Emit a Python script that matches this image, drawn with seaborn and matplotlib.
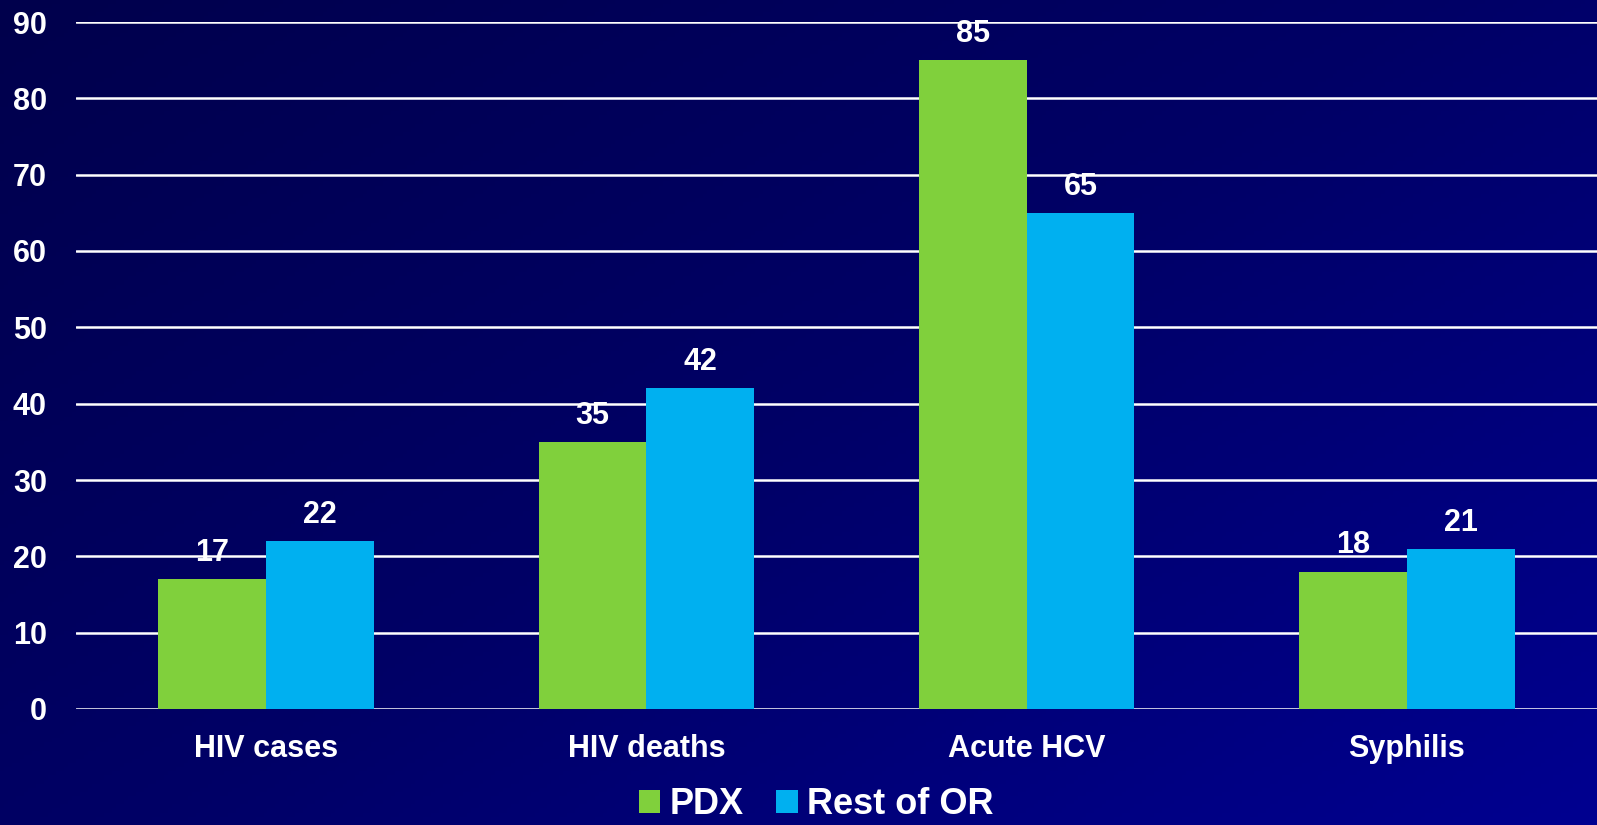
import numpy as np
import pandas as pd
import seaborn as sns
import matplotlib.pyplot as plt
from matplotlib.colors import LinearSegmentedColormap

categories = ["HIV cases", "HIV deaths", "Acute HCV", "Syphilis"]
pdx = [17, 35, 85, 18]
rest_of_or = [22, 42, 65, 21]
series = ["PDX", "Rest of OR"]
yticks = [0, 10, 20, 30, 40, 50, 60, 70, 80, 90]

df = pd.DataFrame({
    "category": categories * 2,
    "value": pdx + rest_of_or,
    "region": [series[0]] * len(categories) + [series[1]] * len(categories),
})

sns.set_theme(style="white")
plt.rcParams["font.family"] = ["Liberation Sans", "DejaVu Sans"]
plt.rcParams["font.weight"] = "bold"

fig = plt.figure(figsize=(15.97, 8.25), dpi=100)

# diagonal navy gradient background
bg = fig.add_axes([0, 0, 1, 1], zorder=-10)
xx, yy = np.meshgrid(np.linspace(0, 1, 400), np.linspace(0, 1, 200))
grad = 0.55 * xx + 0.45 * yy
cmap = LinearSegmentedColormap.from_list("bg", ["#00004c", "#000066", "#000090"])
bg.imshow(grad, cmap=cmap, aspect="auto", extent=[0, 1, 0, 1], origin="upper")
bg.axis("off")

ax = fig.add_axes([76 / 1597, 1 - 709 / 825, 1 - 76 / 1597, (709 - 22) / 825])
ax.patch.set_alpha(0)

palette = {"PDX": "#80d03c", "Rest of OR": "#00b0f0"}
sns.barplot(data=df, x="category", y="value", hue="region", palette=palette,
            width=0.567, gap=0, saturation=1, linewidth=0, ax=ax, legend=True)

for p in ax.patches:
    p.set_zorder(3)
    p.set_linewidth(0)

for cont in ax.containers:
    ax.bar_label(cont, fmt="%d", padding=8, color="white", fontsize=22,
                 fontweight="bold")

ax.set_ylim(0, 90)
ax.set_xlim(-0.5, 3.5)
ax.set_yticks(yticks)
ax.yaxis.grid(True, color="white", linewidth=1.8)
for gl in ax.yaxis.get_gridlines():
    gl.set_zorder(1)
ax.set_axisbelow(True)
for s in ax.spines.values():
    s.set_visible(False)
ax.tick_params(axis="both", length=0, colors="white", labelsize=22)
ax.tick_params(axis="y", pad=21)
ax.tick_params(axis="x", pad=18)
for lab in ax.get_xticklabels() + ax.get_yticklabels():
    lab.set_fontweight("bold")
ax.set_xlabel("")
ax.set_ylabel("")

handles, labels = ax.get_legend_handles_labels()
for h in handles:
    h.set_linewidth(0)
ax.get_legend().remove()
fig.legend(handles, labels, loc="center", bbox_to_anchor=(0.511, 0.025),
           ncol=2, frameon=False, handlelength=0.6, handleheight=0.6,
           handletextpad=0.25, columnspacing=0.9, labelcolor="white",
           borderpad=0, prop={"weight": "bold", "size": 26})

fig.savefig("out.png", dpi=100)
